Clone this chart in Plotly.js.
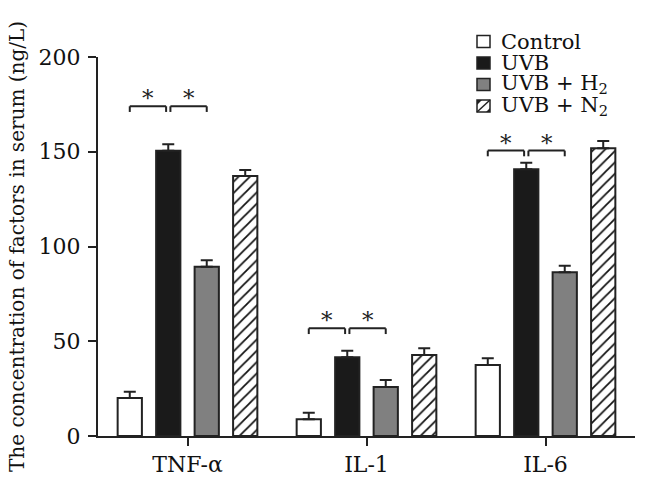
<!DOCTYPE html>
<html>
<head>
<meta charset="utf-8">
<script src="https://cdn.plot.ly/plotly-3.0.1.min.js"></script>
<style>html,body{margin:0;padding:0;background:#fff;}</style>
</head>
<body>
<div id="chart" style="width:646px;height:492px;"></div>
<script>
// ---- data ----
const categories = ['TNF-α', 'IL-1', 'IL-6'];
const seriesNames = ['Control', 'UVB', 'UVB + H<sub>2</sub>', 'UVB + N<sub>2</sub>'];
const controlVals = [20, 8.8, 37.5];
const controlErr  = [3.4, 3.5, 3.5];
const uvbVals     = [150.5, 41.5, 140.7];
const uvbErr      = [3.5, 3.5, 3.5];
const h2Vals      = [89.3, 25.9, 86.4];
const h2Err       = [3.5, 3.6, 3.5];
const n2Vals      = [137.2, 42.7, 151.8];
const n2Err       = [3.2, 3.6, 3.9];
const sigHeights  = [174, 56.8, 150.6];   // significance bracket levels
const sigLabel    = '*';

// ---- style ----
const FONT = 'DejaVu Serif, Liberation Serif, serif';
const INK = '#222';
const M = {l: 98, r: 11, t: 57, b: 56};
const W = 646, H = 492;
const PW = W - M.l - M.r, PH = H - M.t - M.b;
const bargap = 0.14;
const nSeries = 4;
const pitch = (1 - bargap) / nSeries;

const fills = ['#ffffff', '#1a1a1a', '#808080', '#ffffff'];
const vals = [controlVals, uvbVals, h2Vals, n2Vals];
const errs = [controlErr, uvbErr, h2Err, n2Err];

const traces = vals.map((v, i) => {
  const t = {
    type: 'bar',
    name: seriesNames[i],
    x: categories,
    y: v,
    marker: {color: fills[i], line: {color: INK, width: 2}},
    error_y: {type: 'data', symmetric: false, array: errs[i], arrayminus: errs[i].map(() => 0),
              color: INK, thickness: 2, width: 6},
    showlegend: false
  };
  if (i === 3) {
    t.marker.pattern = {shape: '/', fgcolor: '#111', bgcolor: '#ffffff', size: 8, solidity: 0.22};
  }
  return t;
});

// significance brackets
const shapes = [];
const annotations = [];
const legLen = 3;
const gap = 0.012;
categories.forEach((c, ci) => {
  const center = k => ci + (k - 1.5) * pitch;
  const yb = sigHeights[ci];
  const pairs = [[center(0), center(1) - gap], [center(1) + gap, center(2)]];
  pairs.forEach(([a, b]) => {
    shapes.push({type: 'line', xref: 'x', yref: 'y', x0: a, x1: b, y0: yb, y1: yb, line: {color: INK, width: 2}});
    shapes.push({type: 'line', xref: 'x', yref: 'y', x0: a, x1: a, y0: yb, y1: yb - legLen, line: {color: INK, width: 2}});
    shapes.push({type: 'line', xref: 'x', yref: 'y', x0: b, x1: b, y0: yb, y1: yb - legLen, line: {color: INK, width: 2}});
    annotations.push({xref: 'x', yref: 'y', x: (a + b) / 2, y: yb, yanchor: 'bottom', yshift: -7,
      text: sigLabel, showarrow: false, font: {family: FONT, size: 23, color: INK}});
  });
});

// manual legend (pixel -> paper)
const px = x => (x - M.l) / PW;
const py = y => (M.t + PH - y) / PH;
const legRows = [41.5, 63, 84.5, 106];
const sqL = 477, sqR = 490, sqH = 12;
legRows.forEach((yc, i) => {
  const y0 = yc - sqH / 2, y1 = yc + sqH / 2;
  shapes.push({type: 'rect', xref: 'paper', yref: 'paper', x0: px(sqL), x1: px(sqR), y0: py(y1), y1: py(y0),
    fillcolor: fills[i], line: {color: INK, width: 1.5}});
  if (i === 3) {
    shapes.push({type: 'line', xref: 'paper', yref: 'paper', x0: px(sqL), y0: py(y1), x1: px(sqR), y1: py(y0), line: {color: INK, width: 1.5}});
    shapes.push({type: 'path', xref: 'paper', yref: 'paper',
      path: `M ${px(sqL)} ${py(y0)} L ${px(sqL + 5)} ${py(y0)} L ${px(sqL)} ${py(y0 + 5)} Z`, fillcolor: INK, line: {width: 0}});
    shapes.push({type: 'path', xref: 'paper', yref: 'paper',
      path: `M ${px(sqR)} ${py(y1)} L ${px(sqR - 4)} ${py(y1)} L ${px(sqR)} ${py(y1 - 4)} Z`, fillcolor: INK, line: {width: 0}});
  }
  annotations.push({xref: 'paper', yref: 'paper', x: px(499), y: py(yc), xanchor: 'left', yanchor: 'middle',
    text: seriesNames[i], showarrow: false, font: {family: FONT, size: 21, color: '#111'}});
});

const layout = {
  width: W, height: H,
  margin: {l: M.l, r: M.r, t: M.t, b: M.b, pad: 0},
  paper_bgcolor: '#fff', plot_bgcolor: '#fff',
  barmode: 'group', bargap: bargap, bargroupgap: 0.37,
  showlegend: false,
  font: {family: FONT, color: '#111'},
  xaxis: {
    type: 'category', range: [-0.5, 2.5],
    showline: true, linecolor: INK, linewidth: 2,
    ticks: 'outside', ticklen: 8, tickwidth: 2, tickcolor: INK,
    showgrid: false, zeroline: false,
    tickfont: {family: FONT, size: 22, color: '#111'}
  },
  yaxis: {
    range: [0, 200], tickvals: [0, 50, 100, 150, 200],
    showline: true, linecolor: INK, linewidth: 2,
    ticks: 'outside', ticklen: 8, tickwidth: 2, tickcolor: INK,
    showgrid: false, zeroline: false,
    tickfont: {family: FONT, size: 22, color: '#111'},
    ticklabelstandoff: 3,
    title: {text: 'The concentration of factors in serum (ng/L)', standoff: 9,
            font: {family: FONT, size: 20, color: '#111'}}
  },
  shapes: shapes,
  annotations: annotations
};

Plotly.newPlot('chart', traces, layout, {displayModeBar: false, staticPlot: true});
</script>
</body>
</html>
